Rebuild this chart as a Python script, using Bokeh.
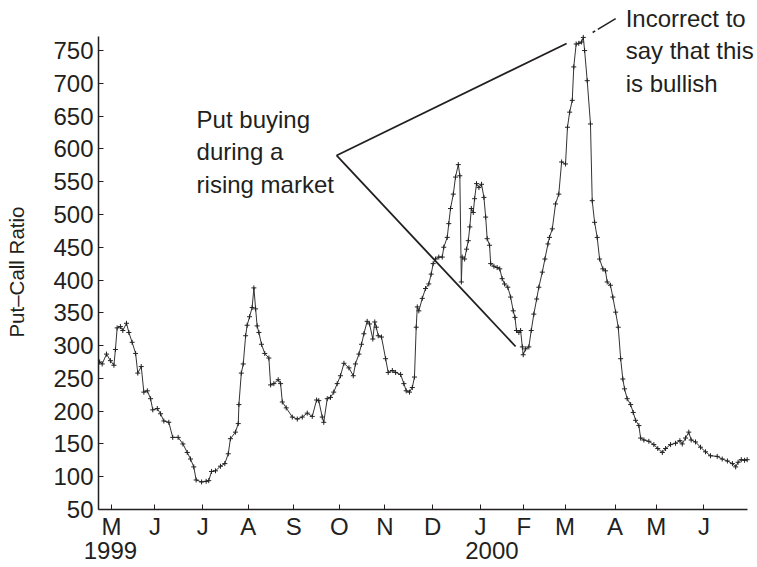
from bokeh.plotting import figure
from bokeh.models import Range1d, FixedTicker, Label, LinearAxis
from bokeh.embed import file_html
from bokeh.resources import INLINE

# trading-day index (0 = first trading day of May 1999) and put-call ratio
day = [-5.5, -4.3, -2.3, -0.5, 1.1, 1.8, 2.6, 4.1, 5.2, 6.9, 8.0, 9.5, 11.1, 12.1, 13.7,
       14.9, 16.5, 18.0, 19.0, 21.1, 22.6, 24.1, 26.4, 28.2, 30.7, 32.9, 34.9, 36.4, 37.9,
       39.0, 41.5, 43.6, 44.8, 46.1, 47.9, 50.2, 52.2, 53.8, 54.8, 57.1, 58.4, 58.7, 59.8,
       60.7, 61.8, 62.5, 63.6, 64.8, 65.6, 66.4, 67.1, 67.9, 69.1, 70.6, 72.5, 73.3, 74.8,
       76.8, 77.9, 78.7, 80.5, 83.3, 85.6, 87.9, 90.2, 92.5, 94.5, 95.5, 97.1, 97.8, 99.4,
       100.9, 102.4, 104.0, 105.5, 107.1, 109.4, 111.4, 112.4, 114.0, 115.2, 116.3, 117.8,
       118.9, 120.4, 121.3, 122.0, 122.9, 124.4, 126.3, 127.5, 129.4, 130.9, 133.2, 134.7,
       135.8, 137.3, 138.6, 139.6, 140.4, 140.9, 141.6, 143.2, 144.7, 146.2, 147.3, 148.2,
       149.3, 150.8, 152.4, 153.1, 154.7, 155.4, 156.2, 157.5, 158.5, 159.8, 160.5, 161.2,
       161.6, 162.7, 163.6, 164.4, 165.1, 165.8, 166.7, 167.3, 168.2, 169.3, 170.5, 171.6,
       172.4, 173.1, 174.2, 174.7, 176.2, 177.7, 178.9, 180.0, 181.1, 182.6, 183.9, 185.1,
       185.9, 186.6, 187.7, 188.5, 189.3, 189.7, 190.8, 192.3, 193.4, 194.6, 195.9, 196.9,
       198.5, 199.7, 201.1, 201.8, 203.1, 204.6, 206.1, 207.4, 209.2, 210.1, 211.1, 212.3,
       213.0, 214.1, 215.3, 216.6, 217.4, 218.0, 219.2, 220.7, 221.5, 222.6, 223.8, 224.9,
       226.4, 227.6, 228.4, 229.9, 231.0, 232.3, 233.5, 234.6, 235.6, 236.4, 237.6, 239.2,
       240.4, 241.5, 243.0, 243.8, 245.3, 247.6, 249.9, 251.7, 253.8, 255.3, 257.6, 259.9,
       261.9, 263.0, 264.5, 266.0, 267.1, 269.1, 271.4, 273.7, 276.0, 279.1, 281.4, 283.8,
       286.1, 287.6, 288.7, 290.2, 291.7, 292.9]
ratio = [275, 272, 287, 277, 270, 294, 327, 329, 323, 334, 320, 305, 288, 258, 268,
         229, 231, 219, 202, 204, 196, 185, 183, 160, 160, 150, 137, 127, 115,
         95, 92, 93, 94, 108, 109, 116, 120, 135, 158, 168, 181, 210, 258,
         272, 315, 331, 344, 358, 388, 356, 330, 320, 302, 288, 281, 240, 242,
         248, 242, 214, 205, 191, 188, 191, 197, 192, 217, 216, 191, 183, 219,
         221, 229, 242, 254, 273, 266, 254, 272, 287, 302, 318, 337,
         333, 310, 336, 328, 315, 313, 280, 259, 262, 259, 256, 242,
         231, 229, 236, 252, 328, 359, 353, 372, 387, 394, 409, 425,
         432, 435, 435, 450, 465, 486, 509, 531, 557, 576, 559, 397,
         435, 432, 447, 460, 481, 509, 503, 524, 547, 541, 546, 526,
         496, 463, 453, 425, 421, 419, 417, 402, 394, 389, 374, 353,
         343, 323, 320, 323, 298, 286, 295, 298, 323, 348, 371, 389,
         412, 432, 455, 465, 478, 516, 531, 580, 577, 633, 656, 674,
         725, 760, 761, 763, 770, 750, 704, 638, 521, 488, 465, 432,
         417, 414, 397, 392, 374, 351, 328, 280, 249, 234, 219, 210,
         198, 186, 178, 159, 156, 154, 149, 143, 137, 143, 149, 151,
         155, 150, 159, 168, 156, 153, 145, 138, 132, 131, 127, 124,
         120, 115, 122, 126, 125, 126]

month_ticks = [0, 20, 42, 63, 84, 105, 126, 148, 170, 190, 209, 232, 251, 273]
month_labels = ["M", "J", "J", "A", "S", "O", "N", "D", "J", "F", "M", "A", "M", "J"]
year_ticks = [-0.5, 175.3]
year_labels = ["1999", "2000"]
y_ticks = list(range(50, 751, 50))

FONT = "Liberation Sans"
INK = "#231f20"
FS = "24px"

p = figure(width=756, height=566, output_backend="svg", toolbar_location=None,
           x_range=Range1d(-6, 297.2), y_range=Range1d(50, 826.3),
           min_border_left=98, min_border_right=0, min_border_top=0, min_border_bottom=57)
p.outline_line_color = None
p.grid.visible = False
p.background_fill_color = "white"
p.border_fill_color = "white"

for ax in (p.xaxis[0], p.yaxis[0]):
    ax.axis_line_color = INK
    ax.axis_line_width = 1.5
    ax.major_tick_line_color = INK
    ax.major_tick_line_width = 1
    ax.major_tick_in = 5
    ax.major_tick_out = 0
    ax.minor_tick_line_color = None
    ax.major_label_text_font = FONT
    ax.major_label_text_font_size = FS
    ax.major_label_text_color = INK

p.yaxis.ticker = FixedTicker(ticks=y_ticks)
p.yaxis.bounds = (50, 771)
p.yaxis.major_label_standoff = 5
p.yaxis.axis_label = "Put\u2013Call Ratio" + "\u00a0" * 6
p.yaxis.axis_label_text_font = FONT
p.yaxis.axis_label_text_font_size = "20.5px"
p.yaxis.axis_label_text_font_style = "normal"
p.yaxis.axis_label_text_color = INK
p.yaxis.axis_label_standoff = 22

p.xaxis.ticker = FixedTicker(ticks=month_ticks)
p.xaxis.bounds = (-6, 293.1)
p.xaxis.major_label_overrides = {t: l for t, l in zip(month_ticks, month_labels)}
p.xaxis.major_label_standoff = 3

# year labels on a second, line-less axis below the month axis
year_axis = LinearAxis(ticker=FixedTicker(ticks=year_ticks),
                       major_label_overrides={t: l for t, l in zip(year_ticks, year_labels)},
                       axis_line_color=None, major_tick_line_color=None,
                       minor_tick_line_color=None, major_tick_in=0, major_tick_out=0,
                       major_label_standoff=-1, major_label_text_font=FONT,
                       major_label_text_font_size=FS, major_label_text_color=INK)
p.add_layout(year_axis, "below")

# series
p.line(day, ratio, line_color="#333333", line_width=1)
p.scatter(day, ratio, marker="cross", size=5, line_color="#222222", line_width=1)

# annotation pointers
p.segment(x0=[103.7, 103.7], y0=[590, 590], x1=[186.2, 209.7], y1=[298.6, 760.7],
          line_color=INK, line_width=1.8)
p.line([221.7, 232.3], [777.5, 798.8], line_color=INK, line_width=1.5, line_dash="3 3 22")

def add_text(x, y, s):
    p.add_layout(Label(x=x, y=y, text=s, text_font=FONT, text_font_size=FS,
                       text_color=INK, text_align="left", text_baseline="alphabetic"))

for s, y in zip(["Put buying", "during a", "rising market"], [645.1, 595.3, 545.7]):
    add_text(39.2, y, s)
for s, y in zip(["Incorrect to", "say that this", "is bullish"], [798.8, 750.6, 699.7]):
    add_text(236.9, y, s)

open("out.html", "w").write(file_html(p, INLINE))
